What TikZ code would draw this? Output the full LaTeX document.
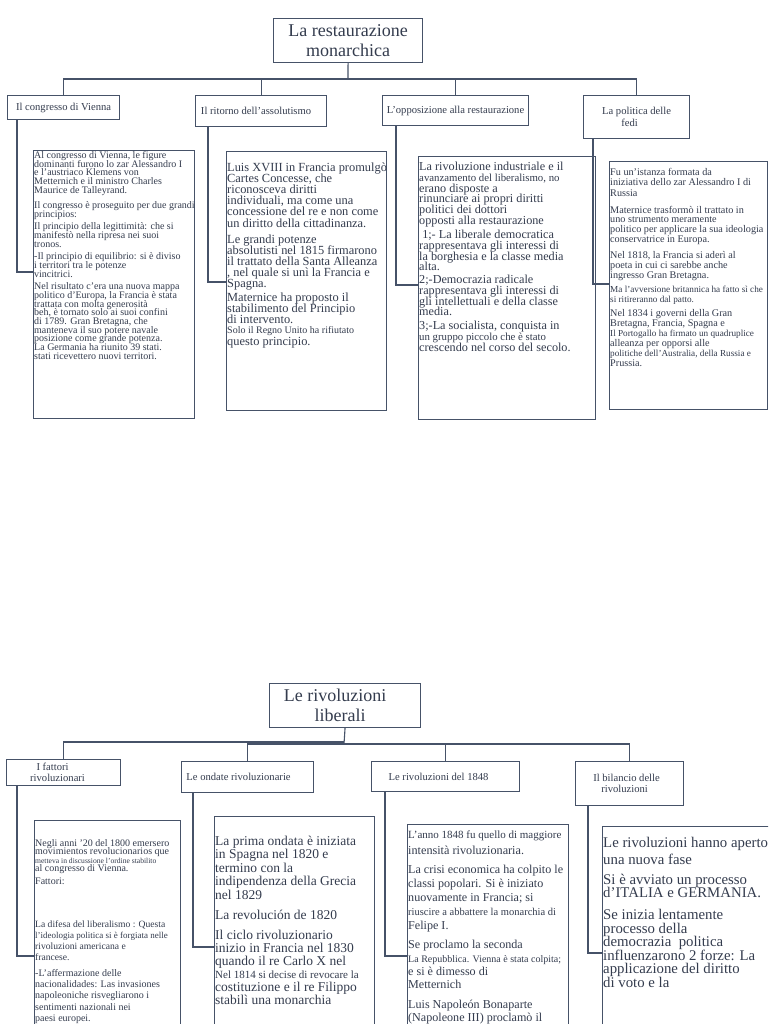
\documentclass[tikz,border=0pt]{standalone}
\usepackage{fontspec}
\setmainfont{Liberation Serif}
\definecolor{linec}{RGB}{70,82,104}
\definecolor{textc}{RGB}{52,60,78}
\newcommand{\fz}[2]{\fontsize{#1pt}{#2pt}\selectfont\lineskiplimit=-100pt\lineskip=0pt}
\tikzset{
 conn/.style={draw=linec, line width=1.1pt},
 boxn/.style={draw=linec, line width=1.1pt, inner sep=0pt, anchor=north west},
 hdr/.style={boxn, align=center, text=textc, font=\fz{10.6}{12.5}},
 ttl/.style={boxn, align=center, text=textc, font=\fz{18}{20.5}},
 txt/.style={inner sep=0pt, anchor=north west, align=left, text=textc},
}
\begin{document}
\begin{tikzpicture}[x=1pt,y=-1pt]
\useasboundingbox (0,0) rectangle (768,1024);
\fill[white] (0,0) rectangle (768,1024);
\clip (0,0) rectangle (768,1024);

% ---------------- top map ----------------
\node[ttl, minimum width=149pt, minimum height=44pt] (T1) at (273,18) {La restaurazione\\monarchica};
\node[hdr, minimum width=112pt, minimum height=24pt] (H1) at (7,95) {Il congresso di Vienna};
\node[hdr, minimum width=131pt, minimum height=31pt] (H2) at (195,95) {Il ritorno dell'assolutismo\hspace*{10pt}};
\node[hdr, minimum width=146pt, minimum height=30pt] (H3) at (382,95) {L'opposizione alla restaurazione};
\node[hdr, minimum width=106pt, minimum height=43pt] (H4) at (583,95) {La politica delle\\fedi\hspace*{14pt}};

\coordinate (J1) at (348,79);
\draw[conn] (T1.south) -- (J1);
\foreach \h in {H1,H2,H3,H4} \draw[conn] (\h.north) |- (J1);

\node[boxn, minimum width=161pt, minimum height=268pt] (B1) at (33,150) {};
\node[boxn, minimum width=160pt, minimum height=259pt] (B2) at (226,151) {};
\node[boxn, minimum width=177pt, minimum height=263pt] (B3) at (418,156) {};
\node[boxn, minimum width=158pt, minimum height=248pt] (B4) at (609,161) {};

\draw[conn] (H1.south west) ++(10,0) |- ([yshift=-122pt]B1.north west);
\draw[conn] (H2.south west) ++(13,0) |- ([yshift=-131pt]B2.north west);
\draw[conn] (H3.south west) ++(14,0) |- ([yshift=-129pt]B3.north west);
\draw[conn] (H4.south west) ++(10,0) |- ([yshift=-123pt]B4.north west);

% box 1
\node[txt, font=\fz{10}{8.8}] (B1a) at (34,151) {Al congresso di Vienna, le figure\\dominanti furono lo zar Alessandro I\\e l'austriaco Klemens von\\Metternich e il ministro Charles\\Maurice de Talleyrand.};
\node[txt, font=\fz{10}{8.8}] (B1b) at (34,201.7) {Il congresso è proseguito per due grandi\\principios:};
\node[txt, font=\fz{10}{8.8}] (B1c) at (34,222.7) {Il principio della legittimità: che si\\manifestò nella ripresa nei suoi\\tronos.};
\node[txt, font=\fz{10}{8.8}] (B1d) at (34,252.7) {-Il principio di equilibrio: si è diviso\\i territori tra le potenze\\vincitrici.};
\node[txt, font=\fz{10}{8.66}] (B1e) at (34,282.7) {Nel risultato c'era una nuova mappa\\politico d'Europa, la Francia è stata\\trattata con molta generosità\\beh, è tornato solo ai suoi confini\\di 1789. Gran Bretagna, che\\manteneva il suo potere navale\\posizione come grande potenza.\\La Germania ha riunito 39 stati.\\stati ricevettero nuovi territori.};

% box 2
\node[txt, font=\fz{12.4}{11.2}] (B2a) at (227,162.2) {Luis XVIII in Francia promulgò\\Cartes Concesse, che\\riconosceva diritti\\individuali, ma come una\\concessione del re e non come\\un diritto della cittadinanza.};
\node[txt, font=\fz{12.4}{11.2}] (B2b) at (227,234.2) {Le grandi potenze\\absolutisti nel 1815 firmarono\\il trattato della Santa Alleanza\\, nel quale si unì la Francia e\\Spagna.};
\node[txt, font=\fz{12.4}{11.2}] (B2c) at (227,292.2) {Maternice ha proposto il\\stabilimento del Principio\\di intervento.};
\node[txt, font=\fz{12.4}{12}] (B2d) at (227,326) {{\fz{10}{12}Solo il Regno Unito ha rifiutato}\\questo principio.};

% box 3
\node[txt, font=\fz{12.2}{10.7}] (B3a) at (419,162.2) {La rivoluzione industriale e il\\{\fz{10.8}{10.7}avanzamento del liberalismo, no}\\erano disposte a\\rinunciare ai propri diritti\\politici dei dottori\\opposti alla restaurazione};
\node[txt, font=\fz{12.2}{10.7}] (B3b) at (419,230.2) {\ 1;- La liberale democratica\\rappresentava gli interessi di\\la borghesia e la classe media\\alta.};
\node[txt, font=\fz{12.2}{10.7}] (B3c) at (419,275.2) {2;-Democrazia radicale\\rappresentava gli interessi di\\gli intellettuali e della classe\\media.};
\node[txt, font=\fz{12.2}{10.7}] (B3d) at (419,321.2) {3;-La socialista, conquista in\\{\fz{10.8}{10.7}un gruppo piccolo che è stato}\\crescendo nel corso del secolo.};

% box 4
\node[txt, font=\fz{10.2}{10.5}] (B4a) at (610,167.9) {Fu un'istanza formata da\\iniziativa dello zar Alessandro I di\\Russia};
\node[txt, font=\fz{10.2}{9.7}] (B4b) at (610,205.9) {Maternice trasformò il trattato in\\uno strumento meramente\\politico per applicare la sua ideologia\\conservatrice in Europa.};
\node[txt, font=\fz{10.2}{10}] (B4c) at (610,250.9) {Nel 1818, la Francia si aderì al\\poeta in cui ci sarebbe anche\\ingresso Gran Bretagna.};
\node[txt, font=\fz{9.2}{10}] (B4d) at (610,285.4) {Ma l'avversione britannica ha fatto sì che\\si ritireranno dal patto.};
\node[txt, font=\fz{10.2}{10}] (B4e) at (610,308.9) {Nel 1834 i governi della Gran\\Bretagna, Francia, Spagna e\\{\fz{9.2}{10}Il Portogallo ha firmato un quadruplice}\\alleanza per opporsi alle\\{\fz{9.2}{10}politiche dell'Australia, della Russia e}\\Prussia.};

% ---------------- bottom map ----------------
\node[ttl, minimum width=151pt, minimum height=44pt] (T2) at (269,683) {Le rivoluzioni\hspace*{20pt}\\liberali\hspace*{10pt}};
\node[hdr, font=\fz{10.6}{11}, minimum width=114pt, minimum height=26pt] (BH1) at (6,759) {I fattori\hspace*{22pt}\\rivoluzionari\hspace*{12pt}};
\node[hdr, minimum width=132pt, minimum height=31pt] (BH2) at (181,761) {Le ondate rivoluzionarie\hspace*{18pt}};
\node[hdr, minimum width=148pt, minimum height=30pt] (BH3) at (371,761) {Le rivoluzioni del 1848\hspace*{14pt}};
\node[hdr, font=\fz{10.6}{11}, minimum width=108pt, minimum height=44pt] (BH4) at (575,761) {Il bilancio delle\hspace*{6pt}\\rivoluzioni\hspace*{10pt}};

\coordinate (J2) at (344,742);
\coordinate (J3) at (344,744);
\draw[conn] (T2.south) -- (J3);
\draw[conn] (BH1.north) |- (J2);
\foreach \h in {BH2,BH3,BH4} \draw[conn] (\h.north) |- (J3);

\node[boxn, minimum width=146pt, minimum height=230pt] (BB1) at (34,820) {};
\node[boxn, minimum width=160pt, minimum height=230pt] (BB2) at (214,816) {};
\node[boxn, minimum width=161pt, minimum height=230pt] (BB3) at (407,824) {};
\node[boxn, minimum width=180pt, minimum height=230pt] (BB4) at (602,826) {};

\draw[conn] (BH1.south west) ++(11,0) |- ([yshift=-136pt]BB1.north west);
\draw[conn] (BH2.south west) ++(12,0) |- ([yshift=-131pt]BB2.north west);
\draw[conn] (BH3.south west) ++(14,0) |- ([yshift=-132pt]BB3.north west);
\draw[conn] (BH4.south west) ++(13,0) |- ([yshift=-127pt]BB4.north west);

% bottom box 1
\node[txt, font=\fz{10}{8.4}] (BB1a) at (35,839.1) {Negli anni '20 del 1800 emersero\\movimientos revolucionarios que\\{\fz{7.6}{8.4}metteva in discussione l'ordine stabilito}\\al congresso di Vienna.};
\node[txt, font=\fz{10}{8.4}] (BB1b) at (35,878.1) {Fattori:};
\node[txt, font=\fz{9.6}{11.3}] (BB1c) at (35,920.1) {La difesa del liberalismo : Questa\\{\fz{9}{11.3}l'ideologia politica si è forgiata nelle}\\rivoluzioni americana e\\francese.};
\node[txt, font=\fz{10}{11.3}] (BB1d) at (35,969.1) {-L'affermazione delle\\nacionalidades: Las invasiones\\napoleoniche risvegliarono i\\sentimenti nazionali nei\\paesi europei.};

% bottom box 2
\node[txt, font=\fz{13.5}{13.5}] (BB2a) at (215,835.7) {La prima ondata è iniziata\\in Spagna nel 1820 e\\termino con la\\indipendenza della Grecia\\nel 1829};
\node[txt, font=\fz{13.5}{13.5}] (BB2b) at (215,909.7) {La revolución de 1820};
\node[txt, font=\fz{13.5}{13}] (BB2c) at (215,929.7) {Il ciclo rivoluzionario\\inizio in Francia nel 1830\\quando il re Carlo X nel\\{\fz{11}{13}Nel 1814 si decise di revocare la}\\costituzione e il re Filippo\\stabilì una monarchia};

% bottom box 3
\node[txt, font=\fz{12.2}{16}] (BB3a) at (408,830.7) {{\fz{11}{16}L'anno 1848 fu quello di maggiore}\\intensità rivoluzionaria.};
\node[txt, font=\fz{12.1}{14}] (BB3b) at (408,865.3) {La crisi economica ha colpito le\\classi popolari. Si è iniziato\\nuovamente in Francia; si\\{\fz{10.5}{14}riuscire a abbattere la monarchia di}\\Felipe I.};
\node[txt, font=\fz{12.1}{13.3}] (BB3c) at (408,940.3) {Se proclamo la seconda\\{\fz{10}{13.3}La Repubblica. Vienna è stata colpita;}\\e si è dimesso di\\Metternich};
\node[txt, font=\fz{12.1}{12.5}] (BB3d) at (408,1000.3) {Luis Napoleón Bonaparte\\(Napoleone III) proclamò il};

% bottom box 4
\node[txt, font=\fz{14.8}{16.5}] (BB4a) at (603,837.1) {Le rivoluzioni hanno aperto\\una nuova fase};
\node[txt, font=\fz{14.8}{13}] (BB4b) at (603,874.1) {Si è avviato un processo\\d'ITALIA e GERMANIA.};
\node[txt, font=\fz{14.8}{13.6}] (BB4c) at (603,909.1) {Se inizia lentamente\\processo della\\democrazia~ politica\\influenzarono 2 forze: La\\applicazione del diritto\\di voto e la};
\end{tikzpicture}
\end{document}
